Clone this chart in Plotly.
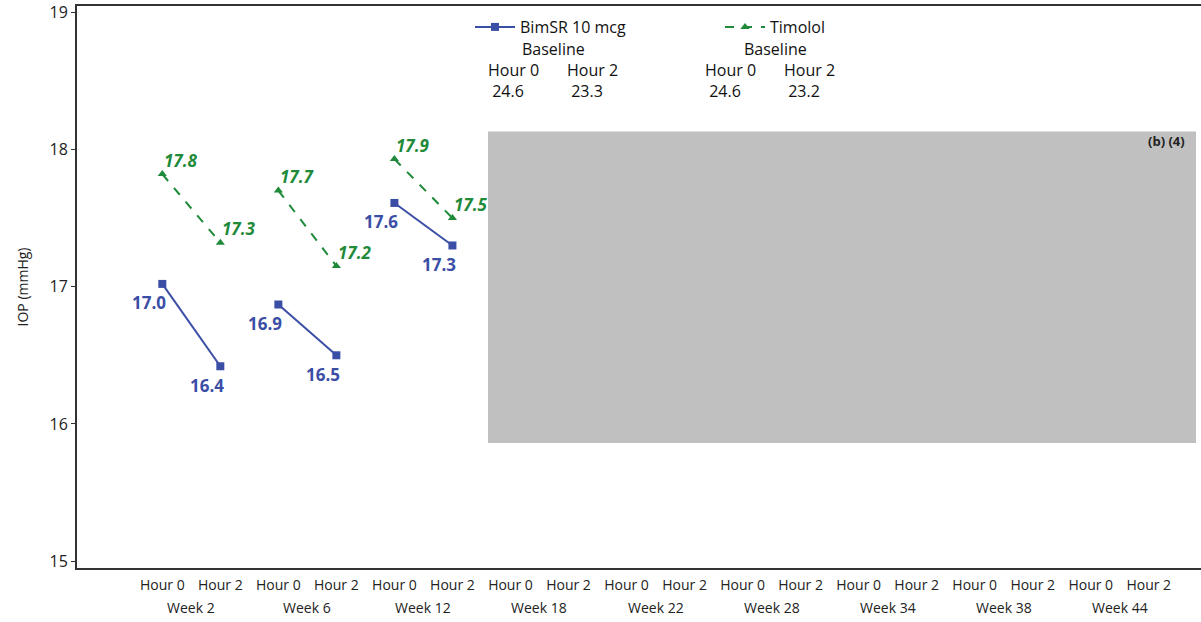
import plotly.graph_objects as go

# ---- data ----
weeks = ["Week 2", "Week 6", "Week 12", "Week 18", "Week 22", "Week 28", "Week 34", "Week 38", "Week 44"]
hours = ["Hour 0", "Hour 2"]
bim_h0 = [17.02, 16.87, 17.61]
bim_h2 = [16.42, 16.50, 17.30]
tim_h0 = [17.82, 17.70, 17.93]
tim_h2 = [17.32, 17.15, 17.50]
bim_lbl_h0 = ["17.0", "16.9", "17.6"]
bim_lbl_h2 = ["16.4", "16.5", "17.3"]
tim_lbl_h0 = ["17.8", "17.7", "17.9"]
tim_lbl_h2 = ["17.3", "17.2", "17.5"]
baseline_bim = ["24.6", "23.3"]
baseline_tim = ["24.6", "23.2"]
yticks = [15, 16, 17, 18, 19]

BLUE = "#3b4ea6"
GREEN = "#1f8a3a"
FONT = "Open Sans, DejaVu Sans, sans-serif"

def build(h0, h2):
    xs, ys = [], []
    for i, (a, b) in enumerate(zip(h0, h2)):
        xs += [2 * i, 2 * i + 1, None]
        ys += [a, b, None]
    return xs, ys

fig = go.Figure()
bx, by = build(bim_h0, bim_h2)
tx, ty = build(tim_h0, tim_h2)
fig.add_trace(go.Scatter(x=bx, y=by, mode="lines+markers", name="BimSR 10 mcg",
                         line=dict(color=BLUE, width=2),
                         marker=dict(symbol="square", size=8, color=BLUE)))
fig.add_trace(go.Scatter(x=tx, y=ty, mode="lines+markers", name="Timolol",
                         line=dict(color=GREEN, width=2, dash="dash"),
                         marker=dict(symbol="triangle-up", size=8, color=GREEN)))

ann = []
for i in range(len(bim_h0)):
    for j, (v, l) in enumerate([(bim_h0[i], bim_lbl_h0[i]), (bim_h2[i], bim_lbl_h2[i])]):
        ann.append(dict(x=2 * i + j, y=v, text="<b>%s</b>" % l, showarrow=False,
                        xanchor="right", yanchor="middle", xshift=6, yshift=-19,
                        font=dict(family=FONT, size=17, color=BLUE)))
    for j, (v, l) in enumerate([(tim_h0[i], tim_lbl_h0[i]), (tim_h2[i], tim_lbl_h2[i])]):
        ann.append(dict(x=2 * i + j, y=v, text="<b><i>%s</i></b>" % l, showarrow=False,
                        xanchor="left", yanchor="middle", xshift=0, yshift=14,
                        font=dict(family=FONT, size=17, color=GREEN)))

for k, w in enumerate(weeks):
    ann.append(dict(x=2 * k + 0.5, y=0, yref="paper", text=w, showarrow=False,
                    yanchor="middle", yshift=-39,
                    font=dict(family=FONT, size=14, color="#222")))

W = 1124.0
def px(p):
    return (p - 77) / W

def py(p):
    return (568 - p) / 562.0

for xx in (553, 775):
    ann.append(dict(x=px(xx), y=py(49), xref="paper", yref="paper", text="Baseline",
                    showarrow=False, xanchor="center", yanchor="middle",
                    font=dict(family=FONT, size=16, color="#111")))

cols = [(486, hours[0], baseline_bim[0]), (565, hours[1], baseline_bim[1]),
        (703, hours[0], baseline_tim[0]), (782, hours[1], baseline_tim[1])]
for xx, h, v in cols:
    ann.append(dict(x=px(xx), y=py(81), xref="paper", yref="paper",
                    text="%s<br>&nbsp;%s" % (h, v), align="left",
                    showarrow=False, xanchor="left", yanchor="middle",
                    font=dict(family=FONT, size=16, color="#111")))

ann.append(dict(x=px(1166), y=py(141), xref="paper", yref="paper", text="<b>(b) (4)</b>",
                showarrow=False, xanchor="center", yanchor="middle",
                font=dict(family=FONT, size=13, color="#222")))

fig.update_layout(
    width=1201, height=622,
    margin=dict(l=77, r=0, t=6, b=54),
    paper_bgcolor="white", plot_bgcolor="white",
    showlegend=True,
    legend=dict(orientation="h", x=px(470), y=py(27), xanchor="left", yanchor="middle",
                font=dict(family=FONT, size=16, color="#111"),
                entrywidth=195, entrywidthmode="pixels", itemwidth=40,
                bgcolor="rgba(0,0,0,0)"),
    annotations=ann,
    shapes=[dict(type="rect", xref="paper", yref="y", x0=px(488), x1=px(1196),
                 y0=15.86, y1=18.13, fillcolor="#c0c0c0", line=dict(width=0), layer="above")],
    xaxis=dict(range=[-1.47, 17.9], tickmode="array", tickvals=list(range(18)),
               ticktext=hours * len(weeks), showgrid=False, zeroline=False,
               showline=True, linecolor="#333", linewidth=2, mirror=True,
               ticks="", ticklabelstandoff=3, tickfont=dict(family=FONT, size=14, color="#222")),
    yaxis=dict(range=[14.95, 19.045], tickvals=yticks, showgrid=False, zeroline=False,
               showline=True, linecolor="#333", linewidth=2, ticks="outside", ticklen=4,
               tickcolor="#333", tickfont=dict(family=FONT, size=16, color="#222"),
               title=dict(text="IOP (mmHg)", font=dict(family=FONT, size=14, color="#222"), standoff=18)),
)

fig.write_html("out.html", config={"displayModeBar": False},
               post_script="document.body.style.margin='0px';document.body.style.overflow='hidden';")
